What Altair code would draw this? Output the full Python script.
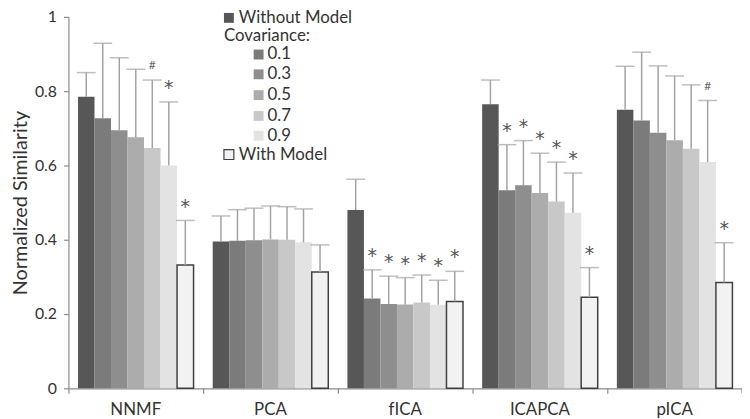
import altair as alt
import pandas as pd

groups = ["NNMF", "PCA", "fICA", "ICAPCA", "pICA"]
series = ["Without Model", "0.1", "0.3", "0.5", "0.7", "0.9", "With Model"]
colors = ["#575757", "#7b7b7b", "#8e8e8e", "#acacac", "#c8c8c8", "#e3e3e3", "#f2f2f2"]

v_without = [0.785, 0.395, 0.480, 0.765, 0.750]
v_c01 = [0.727, 0.397, 0.242, 0.533, 0.721]
v_c03 = [0.695, 0.399, 0.227, 0.547, 0.688]
v_c05 = [0.676, 0.401, 0.226, 0.526, 0.668]
v_c07 = [0.647, 0.400, 0.231, 0.503, 0.645]
v_c09 = [0.600, 0.393, 0.225, 0.473, 0.609]
v_with = [0.332, 0.313, 0.234, 0.245, 0.285]

e_without = [0.850, 0.464, 0.563, 0.830, 0.867]
e_c01 = [0.929, 0.481, 0.319, 0.656, 0.905]
e_c03 = [0.890, 0.485, 0.302, 0.667, 0.868]
e_c05 = [0.859, 0.491, 0.298, 0.633, 0.841]
e_c07 = [0.830, 0.489, 0.305, 0.609, 0.817]
e_c09 = [0.771, 0.483, 0.291, 0.580, 0.775]
e_with = [0.452, 0.386, 0.315, 0.325, 0.392]

s_without = ["", "", "", "", ""]
s_c01 = ["", "", "*", "*", ""]
s_c03 = ["", "", "*", "*", ""]
s_c05 = ["", "", "*", "*", ""]
s_c07 = ["#", "", "*", "*", ""]
s_c09 = ["*", "", "*", "*", "#"]
s_with = ["*", "", "*", "*", "*"]

all_v = [v_without, v_c01, v_c03, v_c05, v_c07, v_c09, v_with]
all_e = [e_without, e_c01, e_c03, e_c05, e_c07, e_c09, e_with]
all_s = [s_without, s_c01, s_c03, s_c05, s_c07, s_c09, s_with]

rows = []
for s, vals, errs, sigs in zip(series, all_v, all_e, all_s):
    for g, v, e, m in zip(groups, vals, errs, sigs):
        rows.append(dict(group=g, series=s, value=v, err=e, sig=m))
df = pd.DataFrame(rows)

W, H = 680, 375
FONT = "Lato"
AX = "#8a8a8a"
ERR = "#a3a3a3"

xenc = alt.X(
    "group:N", sort=groups,
    scale=alt.Scale(paddingInner=0, paddingOuter=0),
    axis=alt.Axis(title=None, bandPosition=0, labelAngle=0,
                  labelPadding=8, tickSize=5, labelFontSize=17),
)
xoff = alt.XOffset("series:N", sort=series,
                   scale=alt.Scale(paddingInner=0, paddingOuter=0.58))
yaxis = alt.Axis(values=[0, 0.2, 0.4, 0.6, 0.8, 1], format="~g", grid=False,
                 title="Normalized Similarity", tickSize=5, labelPadding=7,
                 titleX=-48, titleBaseline="middle", titleFontSize=20)
yscale = alt.Scale(domain=[0, 1], nice=False)

base = alt.Chart(df)

bars = base.mark_bar().encode(
    x=xenc, xOffset=xoff,
    y=alt.Y("value:Q", scale=yscale, axis=yaxis),
    color=alt.Color("series:N", sort=series,
                    scale=alt.Scale(domain=series, range=colors), legend=None),
    stroke=alt.condition(alt.datum.series == "With Model",
                         alt.value("#404040"), alt.value("transparent")),
    strokeWidth=alt.value(1.5),
)

rules = base.mark_rule(color=ERR, strokeWidth=1.5).encode(
    x=xenc, xOffset=xoff,
    y=alt.Y("value:Q", scale=yscale, axis=yaxis),
    y2="err:Q",
)

caps = base.mark_tick(color=ERR, thickness=1.5, size=19).encode(
    x=xenc, xOffset=xoff,
    y=alt.Y("err:Q", scale=yscale, axis=yaxis),
)

stars = base.transform_filter(alt.datum.sig == "*").mark_text(
    font="DejaVu Sans", fontSize=19, fill="#555555", baseline="alphabetic", dy=-8
).encode(
    x=xenc, xOffset=xoff,
    y=alt.Y("err:Q", scale=yscale, axis=yaxis),
    text="sig:N",
)

hashes = base.transform_filter(alt.datum.sig == "#").mark_text(
    font=FONT, fontSize=12, fill="#666666", baseline="alphabetic", dy=-11
).encode(
    x=xenc, xOffset=xoff,
    y=alt.Y("err:Q", scale=yscale, axis=yaxis),
    text="sig:N",
)

end_tick = alt.Chart(pd.DataFrame({"a": [0]})).mark_rule(color=AX, strokeWidth=1.2).encode(
    x=alt.value(W), y=alt.value(H), y2=alt.value(H + 5)
)

# custom legend
legend_items = [
    ("Without Model", colors[0], 162, 1, 172, False),
    ("0.1", colors[1], 192, 38, 201, False),
    ("0.3", colors[2], 192, 58, 201, False),
    ("0.5", colors[3], 192, 79, 201, False),
    ("0.7", colors[4], 192, 100, 201, False),
    ("0.9", colors[5], 192, 120, 201, False),
    ("With Model", colors[6], 162, 139, 172, True),
]
legend_layers = []
for label, col, sx, sy, tx, outlined in legend_items:
    d = pd.DataFrame({"t": [label]})
    legend_layers.append(
        alt.Chart(d).mark_point(
            shape="square", filled=True, size=100, fill=col, opacity=1,
            stroke="#404040" if outlined else col, strokeWidth=1.2 if outlined else 0,
        ).encode(x=alt.value(sx), y=alt.value(sy))
    )
    legend_layers.append(
        alt.Chart(d).mark_text(
            font=FONT, fontSize=17, fill="#333333", align="left", baseline="middle"
        ).encode(x=alt.value(tx), y=alt.value(sy), text="t:N")
    )
legend_layers.append(
    alt.Chart(pd.DataFrame({"t": ["Covariance:"]})).mark_text(
        font=FONT, fontSize=17, fill="#333333", align="left", baseline="middle"
    ).encode(x=alt.value(157), y=alt.value(19), text="t:N")
)

chart = alt.layer(bars, rules, caps, stars, hashes, end_tick, *legend_layers).properties(
    width=W, height=H,
    autosize=alt.AutoSizeParams(type="none"),
    padding={"left": 61, "top": 7, "right": 0, "bottom": 30},
).configure_view(stroke=None).configure_axis(
    domainColor=AX, tickColor=AX, labelColor="#333333", titleColor="#333333",
    labelFont=FONT, titleFont=FONT, labelFontSize=16, titleFontWeight="normal",
    domainWidth=1.2, tickWidth=1.2,
)

chart.save("out.html", embed_options={"renderer": "svg", "actions": False})
